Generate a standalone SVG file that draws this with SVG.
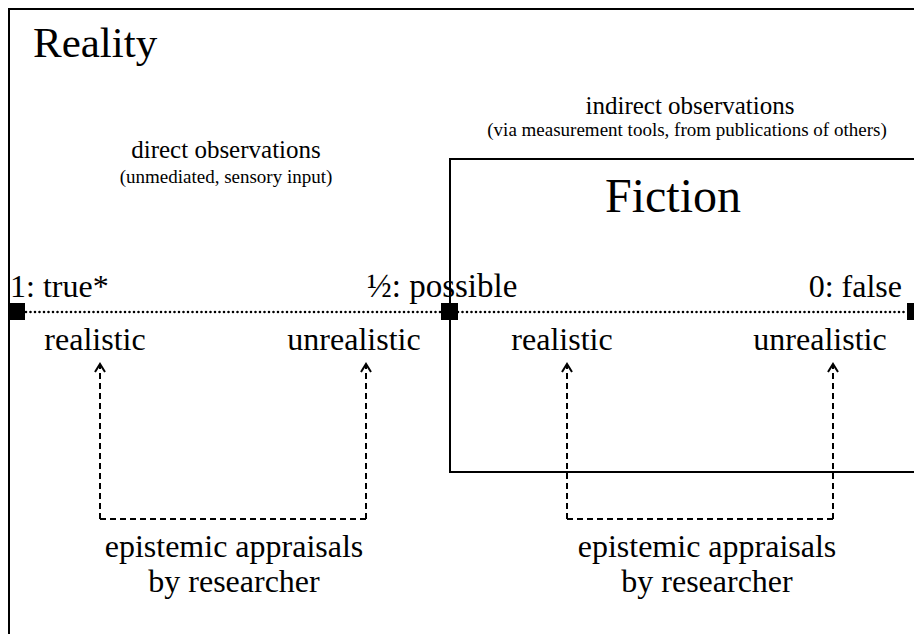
<svg xmlns="http://www.w3.org/2000/svg" width="914" height="634" viewBox="0 0 914 634">
<style>
text{font-family:"Liberation Serif","Times New Roman",serif;fill:#000}
.lbl{font-size:32px}
.big{font-size:43px}
.sub{font-size:25px}
.small{font-size:19px}
.frame{fill:none;stroke:#000;stroke-width:2}
.dash{fill:none;stroke:#000;stroke-width:2;stroke-dasharray:6 4}
.dot{fill:none;stroke:#000;stroke-width:2.6;stroke-linecap:round;stroke-dasharray:0 4.5}
</style>
<defs>
<marker id="arr" viewBox="0 0 12 12" refX="10" refY="6" markerWidth="12" markerHeight="12" markerUnits="userSpaceOnUse" orient="auto">
<path d="M2,1 L10,6 L2,11" fill="none" stroke="#000" stroke-width="2"/>
</marker>
</defs>
<rect width="914" height="634" fill="#fff"/>
<g id="reality">
<rect class="frame" x="9" y="9" width="920" height="640"/>
<text class="big" x="33" y="57">Reality</text>
</g>
<g id="fiction">
<rect class="frame" x="450" y="159" width="480" height="313"/>
<text class="big" x="673" y="212" text-anchor="middle" style="font-size:48px">Fiction</text>
</g>
<g id="direct-observations">
<text class="sub" x="226" y="158" text-anchor="middle">direct observations</text>
<text class="small" x="226" y="183" text-anchor="middle">(unmediated, sensory input)</text>
</g>
<g id="indirect-observations">
<text class="sub" x="690" y="114" text-anchor="middle">indirect observations</text>
<text class="small" x="687" y="136" text-anchor="middle">(via measurement tools, from publications of others)</text>
</g>
<g id="scale">
<line class="dot" x1="26" y1="312" x2="906" y2="312"/>
<rect x="8" y="303" width="17" height="17"/>
<rect x="441" y="303" width="17" height="17"/>
<rect x="907" y="303" width="17" height="17"/>
<text class="lbl" x="10" y="297">1: true*</text>
<text class="lbl" x="367" y="297" style="font-size:33px">½: possible</text>
<text class="lbl" x="902" y="297" text-anchor="end">0: false</text>
</g>
<g id="left-appraisal">
<text class="lbl" x="95" y="350" text-anchor="middle">realistic</text>
<text class="lbl" x="354" y="350" text-anchor="middle">unrealistic</text>
<text class="lbl" x="234" y="557" text-anchor="middle">epistemic appraisals</text>
<text class="lbl" x="234" y="592" text-anchor="middle">by researcher</text>
</g>
<g id="right-appraisal">
<text class="lbl" x="562" y="350" text-anchor="middle">realistic</text>
<text class="lbl" x="820" y="350" text-anchor="middle">unrealistic</text>
<text class="lbl" x="707" y="557" text-anchor="middle">epistemic appraisals</text>
<text class="lbl" x="707" y="592" text-anchor="middle">by researcher</text>
</g>
<g id="connectors">
<path class="dash" d="M100,519 L100,364" marker-end="url(#arr)"/>
<path class="dash" d="M366,519 L366,364" marker-end="url(#arr)"/>
<path class="dash" d="M100,519 L366,519"/>
<path class="dash" d="M567,519 L567,364" marker-end="url(#arr)"/>
<path class="dash" d="M833,519 L833,364" marker-end="url(#arr)"/>
<path class="dash" d="M567,519 L833,519"/>
</g>
</svg>
